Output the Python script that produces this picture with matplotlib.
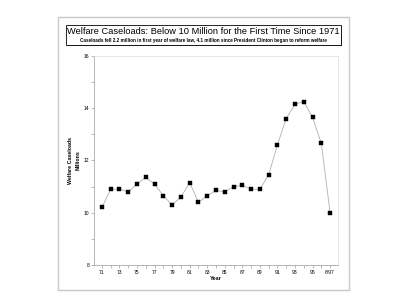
import matplotlib
matplotlib.use("Agg")
import matplotlib.pyplot as plt
from matplotlib.patches import Rectangle

plt.rcParams['font.family'] = ['Liberation Sans', 'DejaVu Sans']

years = ["71", "72", "73", "74", "75", "76", "77", "78", "79", "80", "81", "82", "83",
         "84", "85", "86", "87", "88", "89", "90", "91", "92", "93", "94", "95", "96", "8/97"]
caseloads = [10.2, 10.9, 10.9, 10.8, 11.1, 11.35, 11.1, 10.65, 10.3, 10.6, 11.15, 10.4, 10.65,
             10.85, 10.8, 11.0, 11.05, 10.9, 10.9, 11.45, 12.6, 13.6, 14.15, 14.25, 13.65, 12.65, 10.0]
tick_labels = ["71", "73", "75", "77", "79", "81", "83", "85", "87", "89", "91", "93", "95", "8/97"]

fig = plt.figure(figsize=(4.0, 3.08), dpi=100)
fig.patch.set_facecolor('white')

# outer frame
fig.patches.append(Rectangle((0.145, 0.0584), 0.7275, 0.8866, transform=fig.transFigure,
                             fill=False, edgecolor='#c8c8c8', linewidth=1.0))
# title box shadow and box
fig.patches.append(Rectangle((0.168, 0.850), 0.6875, 0.065, transform=fig.transFigure,
                             facecolor='#444444', edgecolor='none'))
fig.patches.append(Rectangle((0.165, 0.855), 0.6875, 0.065, transform=fig.transFigure,
                             facecolor='white', edgecolor='black', linewidth=0.6))
fig.text(0.5085, 0.899, "Welfare Caseloads: Below 10 Million for the First Time Since 1971",
         ha='center', va='center', fontsize=6.7, color='black')
fig.text(0.5085, 0.869, "Caseloads fell 2.2 million in first year of welfare law, 4.1 million since President Clinton began to reform welfare",
         ha='center', va='center', fontsize=3.3, fontweight='bold', color='black')

ax = fig.add_axes([0.235, 0.1396, 0.61, 0.679])
x = list(range(len(years)))
ax.plot(x, caseloads, color='#b0b0b0', linewidth=0.6, marker='s', markersize=2.8,
        markerfacecolor='black', markeredgecolor='black', markeredgewidth=0.3)

ax.set_xlim(-0.9, 26.9)
ax.set_ylim(8, 16)
ax.set_xticks(x)
ax.set_xticklabels([tick_labels[i // 2] if i % 2 == 0 else "" for i in range(len(years))])
ax.set_yticks([8, 10, 12, 14, 16])
ax.set_yticks([9, 11, 13, 15], minor=True)
ax.tick_params(axis='both', which='both', labelsize=3.6, length=2, width=0.4,
               color='#888888', pad=1.5)

for side in ['left', 'bottom']:
    ax.spines[side].set_color('#999999')
    ax.spines[side].set_linewidth(0.5)
for side in ['top', 'right']:
    ax.spines[side].set_color('#dddddd')
    ax.spines[side].set_linewidth(0.5)

ax.set_xlabel("Year", fontsize=4, fontweight='bold', labelpad=1)
ax.set_ylabel("Welfare Caseloads\nMillions", fontsize=3.8, fontweight='bold', labelpad=2,
              linespacing=1.8)

fig.savefig("out.png", dpi=100, facecolor='white')
